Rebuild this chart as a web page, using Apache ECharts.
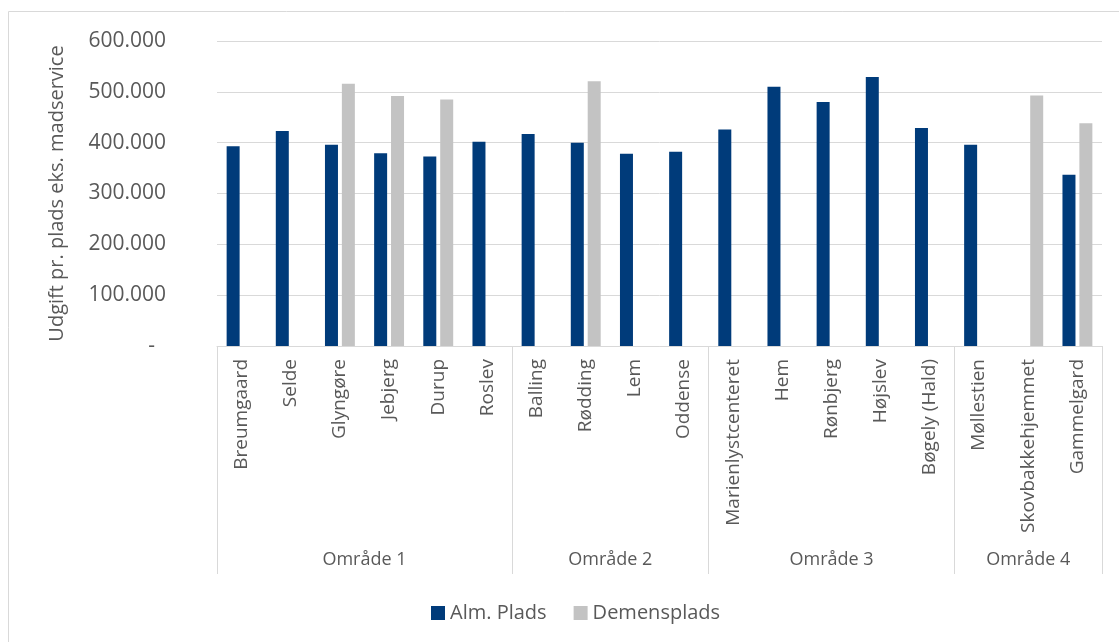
<!DOCTYPE html>
<html>
<head>
<meta charset="utf-8">
<script src="https://cdn.jsdelivr.net/npm/echarts@6/dist/echarts.min.js"></script>
<style>
  html, body { margin: 0; padding: 0; background: #fff; }
  #chart { width: 1119px; height: 642px; }
</style>
</head>
<body>
<div id="chart"></div>
<script>
// Plejecentre, udgift pr. plads (kr.) eks. madservice
const categories = [
  'Breumgaard', 'Selde', 'Glyngøre', 'Jebjerg', 'Durup', 'Roslev',
  'Balling', 'Rødding', 'Lem', 'Oddense',
  'Marienlystcenteret', 'Hem', 'Rønbjerg', 'Højslev', 'Bøgely (Hald)',
  'Møllestien', 'Skovbakkehjemmet', 'Gammelgard'
];
const groupNames = ['Område 1', 'Område 2', 'Område 3', 'Område 4'];
const groupSizes = [6, 4, 5, 3];

const almPlads = [
  393000, 423000, 396000, 379000, 373000, 402000,
  417000, 400000, 378000, 382000,
  426000, 510000, 480000, 529000, 429000,
  396000, null, 337000
];
const demensPlads = [
  null, null, 516000, 492000, 485000, null,
  null, 521000, null, null,
  null, null, null, null, null,
  null, 493000, 438000
];
const yTicks = [0, 100000, 200000, 300000, 400000, 500000, 600000];

// Group boundaries and centres on a 0..N scale under the category axis
const bounds = [0];
groupSizes.forEach(n => bounds.push(bounds[bounds.length - 1] + n));
const centres = groupSizes.map((n, i) => bounds[i] + n / 2);

const textColor = '#595959';
const lineColor = '#d9d9d9';
const font = '"Open Sans", "Liberation Sans", sans-serif';

function fmtThousands(v) {
  if (v === 0) return '{z|-}';
  return String(v).replace(/\B(?=(\d{3})+(?!\d))/g, '.');
}

const chart = echarts.init(document.getElementById('chart'), null, { renderer: 'canvas' });
chart.setOption({
  animation: false,
  textStyle: { fontFamily: font },
  graphic: [{
    type: 'rect',
    shape: { x: 8.5, y: 11.5, width: 1200, height: 700 },
    style: { fill: 'none', stroke: lineColor, lineWidth: 1 },
    silent: true,
    z: -1
  }],
  grid: { left: 217, right: 17, top: 41, bottom: 296, containLabel: false },
  legend: {
    left: 426, top: 598,
    itemWidth: 14, itemHeight: 14, itemGap: 27,
    icon: 'rect',
    textStyle: { color: textColor, fontSize: 20, fontFamily: font },
    data: ['Alm. Plads', 'Demensplads']
  },
  xAxis: [{
    type: 'category',
    data: categories,
    position: 'bottom',
    axisLine: { show: true, lineStyle: { color: lineColor, width: 1 } },
    axisTick: { show: false },
    axisLabel: {
      rotate: 90, margin: 13, interval: 0,
      color: textColor, fontSize: 19, fontFamily: font
    },
    splitLine: { show: false }
  }, {
    type: 'value',
    min: 0, max: categories.length,
    position: 'bottom',
    axisLine: { show: false },
    axisTick: {
      show: true, length: 228, inside: false,
      customValues: bounds,
      lineStyle: { color: lineColor, width: 1 }
    },
    axisLabel: {
      show: true, margin: 205,
      customValues: centres,
      formatter: v => groupNames[centres.indexOf(v)] || '',
      color: textColor, fontSize: 18, fontFamily: font
    },
    splitLine: { show: false }
  }],
  yAxis: {
    type: 'value',
    min: yTicks[0], max: yTicks[yTicks.length - 1], interval: 100000,
    name: 'Udgift pr. plads eks. madservice',
    nameLocation: 'middle',
    nameGap: 150,
    nameTextStyle: { color: textColor, fontSize: 20, fontFamily: font },
    axisLine: { show: false },
    axisTick: { show: false },
    axisLabel: {
      margin: 51, color: textColor, fontSize: 21, fontFamily: font,
      formatter: fmtThousands,
      rich: { z: { color: textColor, fontSize: 21, fontFamily: font, padding: [0, 11, 0, 0] } }
    },
    splitLine: { lineStyle: { color: lineColor, width: 1 } }
  },
  series: [{
    name: 'Alm. Plads',
    type: 'bar',
    data: almPlads,
    barWidth: 13,
    barGap: '30%',
    itemStyle: { color: '#003b7a' }
  }, {
    name: 'Demensplads',
    type: 'bar',
    data: demensPlads,
    barWidth: 13,
    barGap: '30%',
    itemStyle: { color: '#c3c3c3' }
  }]
});
</script>
</body>
</html>
